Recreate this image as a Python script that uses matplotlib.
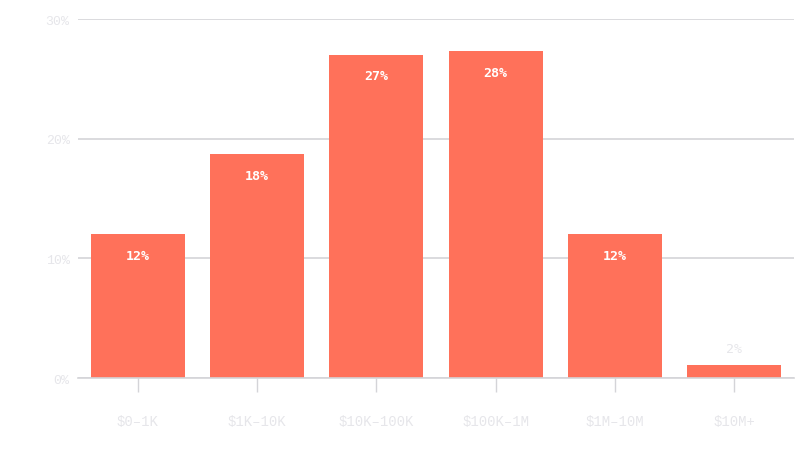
import matplotlib
matplotlib.use('Agg')
import matplotlib.pyplot as plt
import numpy as np

# Data
categories = ['$0–1K', '$1K–10K', '$10K–100K', '$100K–1M', '$1M–10M', '$10M+']
values = [12.0, 18.7, 27.0, 27.3, 12.0, 1.1]
value_labels = ['12%', '18%', '27%', '28%', '12%', '2%']
y_ticks = [0, 10, 20, 30]

BAR_COLOR = '#ff715a'
GRID_COLOR = '#d4d4d8'
TEXT_LIGHT = '#e6e6ea'

fig = plt.figure(figsize=(8, 4.6), dpi=100)
ax = fig.add_axes([0.0975, 0.176, 0.895, 0.7805])

x = np.arange(len(categories))
bars = ax.bar(x, values, width=0.79, color=BAR_COLOR, zorder=3)

ax.set_xlim(-0.5, 5.5)
ax.set_ylim(0, 30)

# horizontal grid
ax.set_yticks(y_ticks)
ax.set_yticklabels([f'{t}%' for t in y_ticks], family='Liberation Mono',
                   fontsize=9.5, color=TEXT_LIGHT)
ax.yaxis.grid(True, color=GRID_COLOR, linewidth=1.2, zorder=0)
ax.tick_params(axis='y', length=0, pad=6)

ax.set_xticks(x)
ax.set_xticklabels(categories, family='Liberation Mono', fontsize=10,
                   color=TEXT_LIGHT)
ax.tick_params(axis='x', length=10, width=1, color=GRID_COLOR, pad=16)

for side in ['top', 'right', 'left']:
    ax.spines[side].set_visible(False)
ax.spines['bottom'].set_color(GRID_COLOR)
ax.spines['bottom'].set_linewidth(1.2)
ax.spines['bottom'].set_zorder(4)

# value labels: inside the bar when it is tall enough, above otherwise
for xi, v, lab in zip(x, values, value_labels):
    if v > 5:
        ax.annotate(lab, (xi, v), xytext=(0, -15), textcoords='offset points',
                    ha='center', va='center', color='white', fontsize=9.5,
                    fontweight='bold', family='DejaVu Sans Mono', zorder=5)
    else:
        ax.annotate(lab, (xi, v), xytext=(0, 12), textcoords='offset points',
                    ha='center', va='center', color=TEXT_LIGHT, fontsize=9.5,
                    family='DejaVu Sans Mono', zorder=5)

fig.savefig('out.png', dpi=100, facecolor='white')
